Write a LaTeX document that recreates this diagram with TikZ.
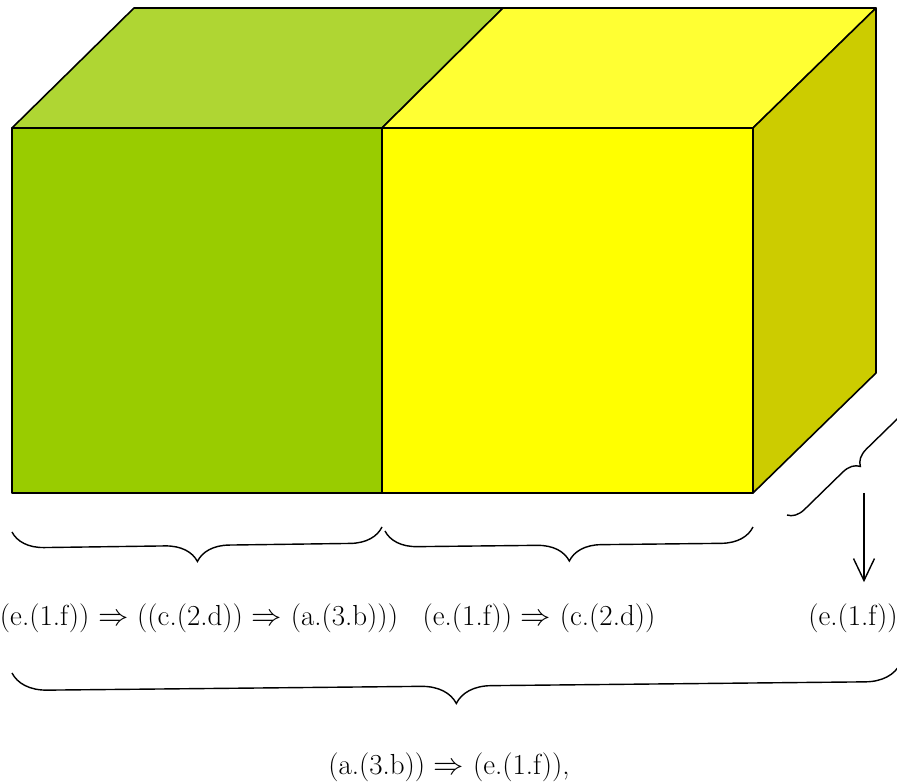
\documentclass[tikz,border=0pt]{standalone}
\usepackage{tikz}
\usetikzlibrary{arrows.meta, positioning, calc, decorations.pathreplacing}
\definecolor{cubeGreen}{HTML}{99CC00}
\definecolor{cubeGreenTop}{HTML}{AFD633}
\definecolor{cubeYellow}{HTML}{FFFF00}
\definecolor{cubeYellowTop}{HTML}{FFFF33}
\definecolor{cubeSide}{HTML}{CCCC00}

\begin{document}
\begin{tikzpicture}[x=0.02cm, y=-0.02cm,
  face/.style={draw=black, line width=0.9pt, line join=round},
  curly/.style={decorate, decoration={brace, mirror, amplitude=#1}, line width=0.8pt},
  curly/.default=0.64cm,
  expr/.style={font=\fontsize{16.5}{19}\selectfont, inner sep=0pt}]

  \clip (0,0) rectangle (897,783);

  % corners of the cube
  \coordinate (fbl) at (12,493);
  \coordinate (ftl) at (12,128);
  \coordinate (fmt) at (382,128);
  \coordinate (fmb) at (382,493);
  \coordinate (ftr) at (753,128);
  \coordinate (fbr) at (753,493);
  \coordinate (btl) at (134,8);
  \coordinate (bmt) at (503,8);
  \coordinate (btr) at (876,8);
  \coordinate (bbr) at (876,373);

  \filldraw[face, fill=cubeGreenTop] (ftl) -- (btl) -- (bmt) -- (fmt) -- cycle;
  \filldraw[face, fill=cubeYellowTop] (fmt) -- (bmt) -- (btr) -- (ftr) -- cycle;
  \filldraw[face, fill=cubeSide] (ftr) -- (btr) -- (bbr) -- (fbr) -- cycle;
  \filldraw[face, fill=cubeGreen] (fbl) rectangle (fmt);
  \filldraw[face, fill=cubeYellow] (fmb) rectangle (ftr);

  % labels
  \node[expr] (left) at (199,618) {(e.(1.f)) $\Rightarrow$ ((c.(2.d)) $\Rightarrow$ (a.(3.b)))};
  \node[expr] (mid) at (539,618) {(e.(1.f)) $\Rightarrow$ (c.(2.d))};
  \node[expr] (right) at (853,618) {(e.(1.f))};
  \node[expr] (total) at (449,767) {(a.(3.b)) $\Rightarrow$ (e.(1.f)),};

  % braces
  \draw[curly] (12,532) -- (382,527);
  \draw[curly] (385,531) -- (753,527);
  \draw[curly=0.33cm] (787,515) -- (911,394);
  \draw[curly=0.7cm] (12,673) -- (900,664);

  % arrow to the last label
  \coordinate (drop) at (864,493);
  \draw[line width=0.8pt, -{Straight Barb[length=0.44cm, width=0.42cm]}, shorten >=0.42cm]
    (drop) -- (drop |- right.north);
\end{tikzpicture}
\end{document}
